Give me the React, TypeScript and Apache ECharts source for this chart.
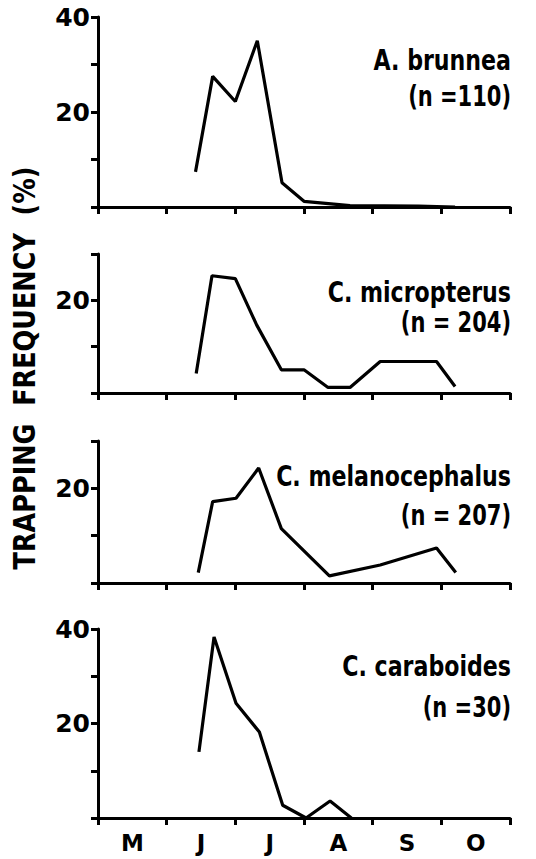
import React, { useEffect, useRef } from "react";
import * as echarts from "echarts";

// Months (category bands, ticks at month boundaries)
const months = ["M", "J", "J", "A", "S", "O"];

// Time position in months since 1 May, and trapping frequency (%)
const brunneaX = [1.42, 1.67, 2.0, 2.32, 2.68, 3.0, 3.67, 4.67, 5.2];
const brunneaY = [7.4, 27.5, 22.2, 35, 5.1, 1.2, 0.3, 0.2, 0];

const micropterusX = [1.43, 1.66, 2.0, 2.31, 2.67, 3.0, 3.35, 3.67, 4.11, 4.93, 5.2];
const micropterusY = [4.2, 25.3, 24.7, 14.7, 5.0, 5.0, 1.2, 1.2, 6.8, 6.8, 1.4];

const melanocephalusX = [1.46, 1.67, 2.01, 2.34, 2.67, 3.37, 4.11, 4.93, 5.21];
const melanocephalusY = [2.2, 17.2, 17.9, 24.3, 11.5, 1.5, 3.8, 7.4, 2.2];

const caraboidesX = [1.47, 1.69, 2.01, 2.35, 2.69, 3.03, 3.38, 3.69];
const caraboidesY = [14.0, 38.3, 24.3, 18.2, 2.7, 0, 3.6, 0];

const speciesNames = ["A. brunnea", "C. micropterus", "C. melanocephalus", "C. caraboides"];
const sampleSizes = ["(n =110)", "(n = 204)", "(n = 207)", "(n =30)"];
const yMaxes = [40, 30, 30, 40];
const yTickLabels = [20, 40];
const yAxisTitle = "TRAPPING  FREQUENCY  (%)";

const seriesX = [brunneaX, micropterusX, melanocephalusX, caraboidesX];
const seriesY = [brunneaY, micropterusY, melanocephalusY, caraboidesY];

// layout
const panels = [
  { top: 17, height: 190, nameY: 61, nY: 96 },
  { top: 254, height: 139, nameY: 293, nY: 322 },
  { top: 441, height: 142, nameY: 477, nY: 515 },
  { top: 629, height: 189, nameY: 667, nY: 707 },
];

export default function App() {
  const ref = useRef<HTMLDivElement>(null);
  useEffect(() => {
    if (!ref.current) return;
    const chart = echarts.init(ref.current, null, { renderer: "svg" });
    const font = "DejaVu Sans";
    const grids: any[] = [];
    const xAxes: any[] = [];
    const yAxes: any[] = [];
    const series: any[] = [];
    const graphics: any[] = [];
    panels.forEach((p, i) => {
      const last = i === panels.length - 1;
      grids.push({ left: 98, width: 412, top: p.top, height: p.height });
      xAxes.push({
        type: "category",
        gridIndex: i,
        data: months,
        boundaryGap: true,
        position: "bottom",
        axisLine: { show: true, lineStyle: { color: "#000", width: 3 } },
        axisTick: { show: true, inside: false, length: 7, lineStyle: { color: "#000", width: 3 } },
        axisLabel: {
          show: last,
          color: "#000",
          fontFamily: font,
          fontWeight: "bold",
          fontSize: 23,
          lineHeight: 23,
          margin: 13,
        },
        splitLine: { show: false },
      });
      xAxes.push({
        type: "value",
        gridIndex: i,
        min: 0,
        max: 6,
        show: false,
        position: "bottom",
      });
      yAxes.push({
        type: "value",
        gridIndex: i,
        min: 0,
        max: yMaxes[i],
        interval: 10,
        axisLine: { show: true, lineStyle: { color: "#000", width: 3 } },
        axisTick: { show: true, inside: false, length: 7, lineStyle: { color: "#000", width: 3 } },
        axisLabel: {
          color: "#000",
          fontFamily: font,
          fontWeight: "bold",
          fontSize: 25,
          margin: 8,
          formatter: (v: number) => (yTickLabels.includes(v) ? String(v) : ""),
        },
        splitLine: { show: false },
      });
      series.push({
        type: "line",
        xAxisIndex: 2 * i + 1,
        yAxisIndex: i,
        data: seriesX[i].map((x, k) => [x, seriesY[i][k]]),
        symbol: "none",
        showSymbol: false,
        lineStyle: { color: "#000", width: 3.2 },
        silent: true,
      });
      graphics.push({
        type: "text",
        x: 511,
        y: p.nameY,
        scaleX: 0.79,
        style: {
          text: speciesNames[i],
          fill: "#000",
          fontFamily: font,
          fontWeight: "bold",
          fontSize: 28,
          textAlign: "right",
          textVerticalAlign: "middle",
          align: "right",
          verticalAlign: "middle",
        },
      });
      graphics.push({
        type: "text",
        x: 511,
        y: p.nY,
        scaleX: 0.75,
        style: {
          text: sampleSizes[i],
          fill: "#000",
          fontFamily: font,
          fontWeight: "bold",
          fontSize: 28,
          textAlign: "right",
          textVerticalAlign: "middle",
          align: "right",
          verticalAlign: "middle",
        },
      });
    });
    graphics.push({
      type: "text",
      x: 25,
      y: 368,
      rotation: Math.PI / 2,
      scaleX: 0.85,
      style: {
        text: yAxisTitle,
        fill: "#000",
        fontFamily: font,
        fontWeight: "bold",
        fontSize: 30,
        textAlign: "center",
        textVerticalAlign: "middle",
        align: "center",
        verticalAlign: "middle",
      },
    });
    chart.setOption({
      animation: false,
      backgroundColor: "#fff",
      grid: grids,
      xAxis: xAxes,
      yAxis: yAxes,
      series,
      graphic: graphics,
    });
    return () => chart.dispose();
  }, []);
  return (
    <div
      ref={ref}
      style={{ position: "fixed", left: 0, top: 0, width: 536, height: 859, background: "#fff" }}
    />
  );
}
